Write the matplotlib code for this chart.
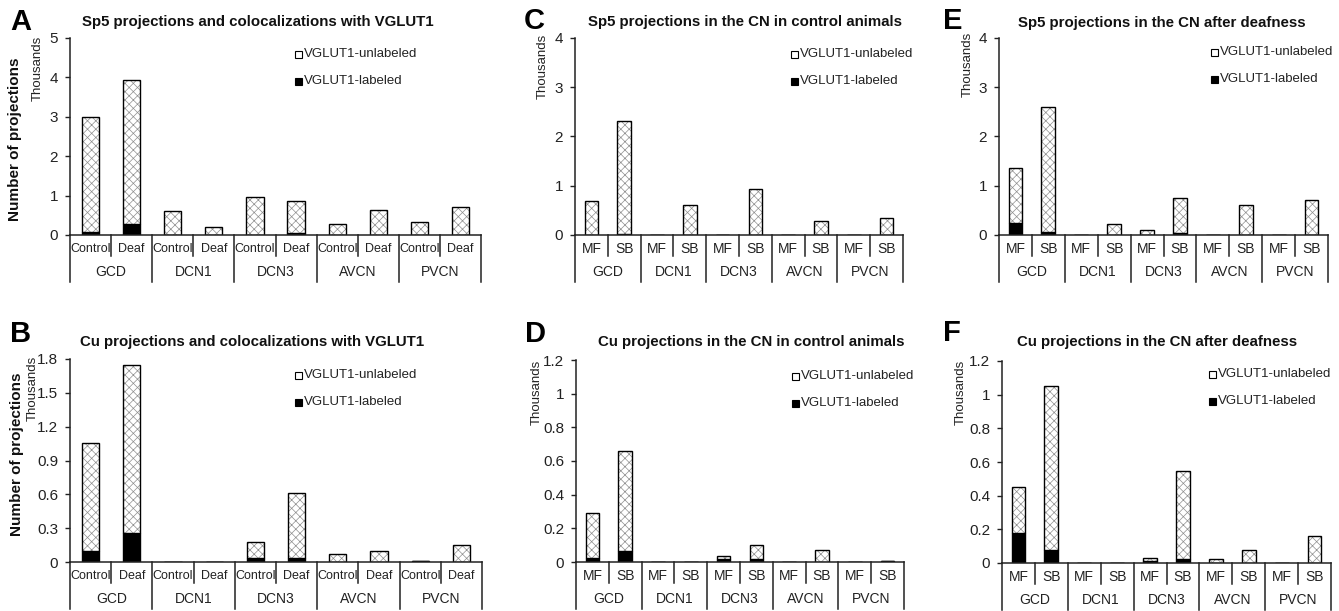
import matplotlib
matplotlib.use("Agg")
import matplotlib.pyplot as plt
import numpy as np

plt.rcParams['font.family'] = ['Liberation Sans', 'DejaVu Sans']
plt.rcParams['hatch.linewidth'] = 0.5

W, H = 1339, 611

groups = ['GCD', 'DCN1', 'DCN3', 'AVCN', 'PVCN']
cond_labels = ['Control', 'Deaf']
type_labels = ['MF', 'SB']

# values in thousands of projections, bar order: group1-sub1, group1-sub2, ...
a_labeled = [0.07, 0.29, 0, 0, 0, 0.05, 0, 0, 0, 0]
a_unlabeled = [2.93, 3.64, 0.61, 0.21, 0.97, 0.82, 0.27, 0.63, 0.34, 0.72]

b_labeled = [0.095, 0.257, 0, 0, 0.035, 0.035, 0, 0, 0.006, 0]
b_unlabeled = [0.96, 1.493, 0, 0, 0.139, 0.575, 0.074, 0.10, 0.002, 0.15]

c_labeled = [0, 0.03, 0, 0, 0, 0, 0, 0, 0, 0]
c_unlabeled = [0.69, 2.29, 0, 0.61, 0, 0.94, 0, 0.28, 0, 0.34]

d_labeled = [0.025, 0.067, 0, 0, 0.015, 0.018, 0, 0, 0, 0.004]
d_unlabeled = [0.265, 0.593, 0, 0, 0.023, 0.085, 0, 0.073, 0, 0.001]

e_labeled = [0.24, 0.06, 0, 0, 0, 0.04, 0, 0, 0, 0]
e_unlabeled = [1.12, 2.53, 0, 0.22, 0.11, 0.72, 0, 0.61, 0, 0.71]

f_labeled = [0.178, 0.079, 0, 0, 0.012, 0.026, 0, 0, 0, 0]
f_unlabeled = [0.272, 0.971, 0, 0, 0.02, 0.521, 0.026, 0.079, 0, 0.158]

panels = [
    # letter, title, labeled, unlabeled, sublabels, ymax, ystep, box(l, r, top, bottom),
    # title pos, letter pos, "Thousands" pos, legend pos (all in pixels)
    ('A', 'Sp5 projections and colocalizations with VGLUT1', a_labeled, a_unlabeled,
     cond_labels, 5, 1, (70, 481, 38, 235), (258, 22), (10, 22), (38, 68), (295, 54)),
    ('B', 'Cu projections and colocalizations with VGLUT1', b_labeled, b_unlabeled,
     cond_labels, 1.8, 0.3, (70, 482, 359, 562), (252, 342), (10, 334), (33, 388), (295, 375)),
    ('C', 'Sp5 projections in the CN in control animals', c_labeled, c_unlabeled,
     type_labels, 4, 1, (575, 903, 38, 235), (745, 22), (524, 21), (543, 66), (791, 54)),
    ('D', 'Cu projections in the CN in control animals', d_labeled, d_unlabeled,
     type_labels, 1.2, 0.2, (576, 904, 360, 562), (751, 342), (525, 334), (537, 392), (792, 376)),
    ('E', 'Sp5 projections in the CN after deafness', e_labeled, e_unlabeled,
     type_labels, 4, 1, (999, 1328, 38, 235), (1162, 23), (943, 21), (968, 64), (1211, 52)),
    ('F', 'Cu projections in the CN after deafness', f_labeled, f_unlabeled,
     type_labels, 1.2, 0.2, (1002, 1331, 361, 563), (1157, 342), (943, 333), (961, 392), (1209, 374)),
]

fig = plt.figure(figsize=(W / 100, H / 100), dpi=100)
fig.patch.set_facecolor('white')

txt = '#222222'
hatch_col = '#8f8f8f'

for letter, title, lab, unlab, subs, ymax, ystep, box, tpos, lpos, thpos, legpos in panels:
    l, r, t, b = box
    ax = fig.add_axes([l / W, 1 - b / H, (r - l) / W, (b - t) / H])
    ax_h = b - t
    x = np.arange(10)
    lab = np.array(lab)
    unlab = np.array(unlab)
    wbar = 0.42

    ax.bar(x, lab, wbar, color='black', edgecolor='black', linewidth=1.0)
    ax.bar(x, unlab, wbar, bottom=lab, color='white', edgecolor=hatch_col,
           hatch='xxxx', linewidth=0)
    ax.bar(x, unlab, wbar, bottom=lab, color='none', edgecolor='black', linewidth=1.0)

    ax.set_xlim(-0.5, 9.5)
    ax.set_ylim(0, ymax)
    ticks = np.round(np.arange(0, ymax + ystep / 2, ystep), 3)
    ax.set_yticks(ticks)
    ax.set_yticklabels([f'{v:g}' for v in ticks])
    ax.tick_params(axis='y', direction='out', length=3.6, width=1, pad=5,
                   labelsize=11, colors=txt)
    ax.set_xticks([])
    for s in ['top', 'right']:
        ax.spines[s].set_visible(False)
    for s in ['left', 'bottom']:
        ax.spines[s].set_linewidth(1.1)
        ax.spines[s].set_color('#222222')

    # multi-level category axis
    tr = ax.get_xaxis_transform()
    row1 = -21 / ax_h
    row2 = -47 / ax_h
    sub_fs = 9 if subs == cond_labels else 10
    for gi in range(6):
        xs = gi * 2 - 0.5
        ax.plot([xs, xs], [0, row2], color='#222222', lw=1.1, transform=tr, clip_on=False)
    for gi in range(5):
        xs = gi * 2 + 0.5
        ax.plot([xs, xs], [0, row1], color='#222222', lw=1.1, transform=tr, clip_on=False)
        ax.text(gi * 2 + 0.5, -37 / ax_h, groups[gi], transform=tr, ha='center',
                va='center', fontsize=10, color=txt)
        for k in range(2):
            ax.text(gi * 2 + k, -14 / ax_h, subs[k], transform=tr, ha='center',
                    va='center', fontsize=sub_fs, color=txt)

    fig.text(tpos[0] / W, 1 - tpos[1] / H, title, ha='center', va='center',
             fontsize=10.8, fontweight='bold', color='#111111')
    fig.text(lpos[0] / W, 1 - lpos[1] / H, letter, ha='left', va='center',
             fontsize=21, fontweight='bold', color='black')
    fig.text(thpos[0] / W, 1 - thpos[1] / H, 'Thousands', ha='center', va='center',
             rotation=90, fontsize=9.5, color=txt)

    # legend
    for k, (name, fc) in enumerate([('VGLUT1-unlabeled', 'white'),
                                    ('VGLUT1-labeled', 'black')]):
        yy = legpos[1] + k * 27
        sq = plt.Rectangle((legpos[0] / W, 1 - (yy + 3.5) / H), 7 / W, 7 / H,
                           transform=fig.transFigure, facecolor=fc, edgecolor='black',
                           linewidth=0.8)
        fig.patches.append(sq)
        fig.text((legpos[0] + 9) / W, 1 - yy / H, name, ha='left', va='center',
                 fontsize=9.5, color=txt)

fig.text(15 / W, 1 - 139 / H, 'Number of projections', rotation=90, ha='center',
         va='center', fontsize=11, fontweight='bold', color='#111111')
fig.text(17 / W, 1 - 454 / H, 'Number of projections', rotation=90, ha='center',
         va='center', fontsize=11, fontweight='bold', color='#111111')

fig.savefig('out.png', dpi=100)
